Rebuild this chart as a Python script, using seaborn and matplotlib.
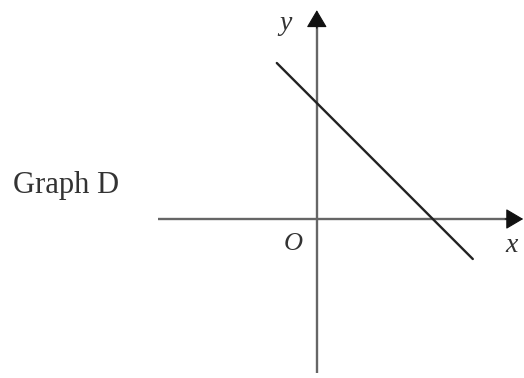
import matplotlib
matplotlib.use("Agg")
import matplotlib.pyplot as plt
import seaborn as sns
import pandas as pd

# data
line_x = [-1.0, 3.9]
line_y = [3.9, -1.0]
x_axis_range = [-3.97, 5.16]
y_axis_range = [-3.85, 5.22]
graph_title = "Graph D"

sns.set_style("white")
plt.rcParams["font.family"] = ["Liberation Serif", "DejaVu Serif"]

fig = plt.figure(figsize=(5.24, 3.78), dpi=100)
ax = fig.add_axes([0, 0, 1, 1])
ax.set_xlim(-7.92, 5.18)
ax.set_ylim(-3.975, 5.475)
ax.set_axis_off()

axis_col = "#666666"
head_col = "#111111"
ax.plot([x_axis_range[0], x_axis_range[1] - 0.2], [0, 0], color=axis_col, lw=1.7, solid_capstyle="butt")
ax.plot([0, 0], [y_axis_range[0], y_axis_range[1] - 0.2], color=axis_col, lw=1.7, solid_capstyle="butt")
arrow_kw = dict(arrowstyle="-|>,head_length=11,head_width=6.5", mutation_scale=1,
                color=head_col, lw=0.8, shrinkA=0, shrinkB=0)
ax.annotate("", xy=(x_axis_range[1], 0), xytext=(x_axis_range[1] - 0.45, 0), arrowprops=arrow_kw)
ax.annotate("", xy=(0, y_axis_range[1]), xytext=(0, y_axis_range[1] - 0.45), arrowprops=arrow_kw)

df = pd.DataFrame({"x": line_x, "y": line_y})
sns.lineplot(data=df, x="x", y="y", ax=ax, color="#222222", lw=1.7, sort=False)

ax.text(-0.78, 4.9, "y", style="italic", fontsize=20, color="#333333", ha="center", va="center")
ax.text(4.86, -0.67, "x", style="italic", fontsize=20, color="#333333", ha="center", va="center")
ax.text(-0.59, -0.62, "O", style="italic", fontsize=19, color="#333333", ha="center", va="center")
fig.text(13 / 524, 1 - 185 / 378, graph_title, fontsize=22, color="#333333", ha="left", va="center")

fig.savefig("out.png", dpi=100)
